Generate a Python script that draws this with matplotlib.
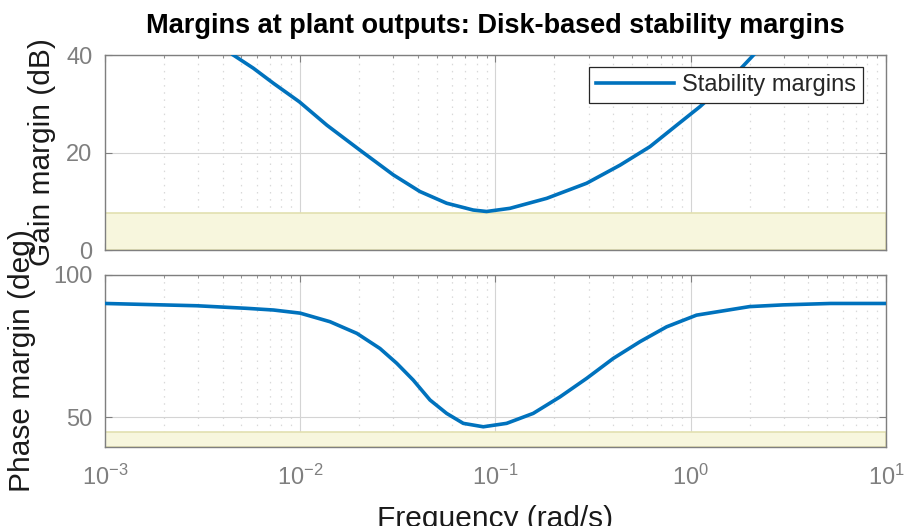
import matplotlib
matplotlib.use("Agg")
import matplotlib.pyplot as plt
from matplotlib.ticker import LogLocator, LogFormatterSciNotation, NullFormatter

plt.rcParams['font.family'] = ['Liberation Sans', 'DejaVu Sans']
plt.rcParams['mathtext.fontset'] = 'custom'
plt.rcParams['mathtext.rm'] = 'Liberation Sans'
plt.rcParams['mathtext.default'] = 'regular'

# disk-based margins vs frequency (rad/s)
w_gain = [0.00454, 0.00575, 0.00729, 0.0099, 0.0137, 0.0202, 0.0300, 0.0410,
          0.0562, 0.0769, 0.0900, 0.1186, 0.183, 0.293, 0.434, 0.618, 0.847,
          1.114, 1.652, 2.13]
gain_db = [40.0, 37.3, 34.2, 30.4, 25.6, 20.5, 15.4, 12.0,
           9.6, 8.2, 7.9, 8.55, 10.6, 13.7, 17.4, 21.2, 25.6,
           29.4, 35.6, 40.3]

w_phase = [0.001, 0.00295, 0.0053, 0.0073, 0.01, 0.0142, 0.0195, 0.0256, 0.0312,
           0.0379, 0.0462, 0.0562, 0.0684, 0.0866, 0.114, 0.156, 0.214,
           0.293, 0.401, 0.550, 0.752, 1.07, 2.0, 2.96, 5.2, 10.0]
phase_deg = [90.0, 89.2, 88.3, 87.7, 86.6, 83.6, 79.5, 74.2, 69.0,
             63.1, 56.1, 51.4, 47.9, 46.7, 47.9, 51.4, 57.2,
             63.7, 70.7, 76.6, 81.8, 85.9, 88.9, 89.5, 90.0, 90.0]

# unstable region limits
gm_limit = 7.65
pm_limit = 44.9
gain_ylim = (0, 40)
phase_ylim = (39.6, 100)
xlim = (1e-3, 10)

line_color = '#0072BD'
axis_grey = '#7f7f7f'
shade_face = '#f7f6dd'
shade_edge = '#e2e0b0'

fig = plt.figure(figsize=(9.08, 5.26), dpi=100)
ax1 = fig.add_axes([0.1156, 0.5247, 0.8602, 0.3707])
ax2 = fig.add_axes([0.1156, 0.1502, 0.8602, 0.3270])


def style_axes(ax, ylim, yticks):
    ax.set_xscale('log')
    ax.set_xlim(*xlim)
    ax.set_ylim(*ylim)
    ax.set_yticks(yticks)
    ax.xaxis.set_major_locator(LogLocator(base=10, numticks=10))
    ax.xaxis.set_minor_locator(LogLocator(base=10, subs=range(2, 10), numticks=10))
    ax.xaxis.set_minor_formatter(NullFormatter())
    ax.grid(True, which='major', color='#d4d4d4', linewidth=0.8)
    ax.grid(True, which='minor', axis='x', color='#d9d9d9', linewidth=0.9,
            linestyle=(0, (1.2, 4.5)))
    ax.set_axisbelow(True)
    for s in ax.spines.values():
        s.set_color(axis_grey)
        s.set_linewidth(1.0)
    ax.tick_params(which='both', direction='in', top=True, right=True,
                   colors=axis_grey, labelsize=17)
    ax.tick_params(which='major', length=5)
    ax.tick_params(which='minor', length=2.5)
    ax.tick_params(axis='y', pad=9)
    ax.tick_params(axis='x', pad=13)


# gain margin
style_axes(ax1, gain_ylim, [0, 20, 40])
ax1.axhspan(gain_ylim[0], gm_limit, facecolor=shade_face, edgecolor=shade_edge,
            linewidth=1.2, zorder=1)
ax1.plot(w_gain, gain_db, color=line_color, linewidth=2.6, label='Stability margins',
         zorder=3)
ax1.tick_params(axis='x', labelbottom=False)
leg = ax1.legend(loc='upper right', bbox_to_anchor=(0.9706, 0.938), borderaxespad=0,
                 fontsize=17, fancybox=False, framealpha=1, edgecolor='#262626',
                 handlelength=3.3, handletextpad=0.35, borderpad=0.3)
leg.get_frame().set_linewidth(0.9)
for t in leg.get_texts():
    t.set_color('#262626')

# phase margin
style_axes(ax2, phase_ylim, [50, 100])
ax2.axhspan(phase_ylim[0], pm_limit, facecolor=shade_face, edgecolor=shade_edge,
            linewidth=1.2, zorder=1)
ax2.plot(w_phase, phase_deg, color=line_color, linewidth=2.6, zorder=3)
ax2.xaxis.set_major_formatter(LogFormatterSciNotation())

fig.text(0.5457, 0.937, 'Margins at plant outputs: Disk-based stability margins',
         ha='center', va='baseline', fontsize=19.5, fontweight='bold', color='black')
fig.text(0.0463, 0.711, 'Gain margin (dB)', rotation=90, ha='center', va='center',
         fontsize=21.5, color='#1a1a1a')
fig.text(0.0242, 0.3137, 'Phase margin (deg)', rotation=90, ha='center', va='center',
         fontsize=21.5, color='#1a1a1a')
fig.text(0.5457, -0.002, 'Frequency (rad/s)', ha='center', va='baseline',
         fontsize=21.5, color='#1a1a1a')

fig.savefig('out.png', dpi=100)
